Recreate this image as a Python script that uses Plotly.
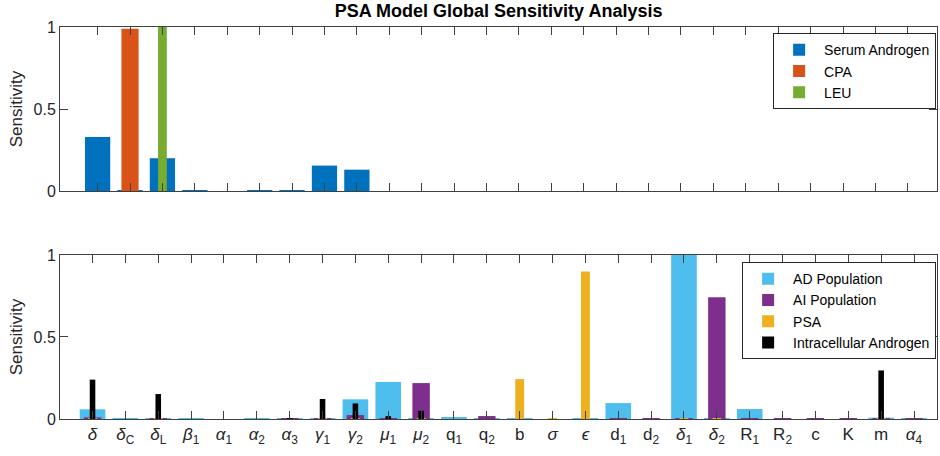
import plotly.graph_objects as go

params = ["δ", "δ_C", "δ_L", "β_1", "α_1", "α_2", "α_3", "γ_1", "γ_2", "μ_1", "μ_2",
          "q_1", "q_2", "b", "σ", "ϵ", "d_1", "d_2", "δ_1", "δ_2", "R_1", "R_2",
          "c", "K", "m", "α_4"]
tick_labels = ["<i>δ</i>", "<i>δ</i><sub>C</sub>", "<i>δ</i><sub>L</sub>", "<i>β</i><sub>1</sub>",
               "<i>α</i><sub>1</sub>", "<i>α</i><sub>2</sub>", "<i>α</i><sub>3</sub>",
               "<i>γ</i><sub>1</sub>", "<i>γ</i><sub>2</sub>", "<i>μ</i><sub>1</sub>",
               "<i>μ</i><sub>2</sub>", "q<sub>1</sub>", "q<sub>2</sub>", "b", "<i>σ</i>",
               "<i>ϵ</i>", "d<sub>1</sub>", "d<sub>2</sub>", "<i>δ</i><sub>1</sub>",
               "<i>δ</i><sub>2</sub>", "R<sub>1</sub>", "R<sub>2</sub>", "c", "K", "m",
               "<i>α</i><sub>4</sub>"]

# top panel
serum_androgen = [0.33, 0.002, 0.20, 0.002, 0.0, 0.003, 0.005, 0.155, 0.13, 0.0, 0.0,
                  0.0, 0.0, 0.0, 0.0, 0.0, 0.0, 0.0, 0.0, 0.0, 0.0, 0.0, 0.0, 0.0, 0.0, 0.0]
cpa = [0.0, 0.99, 0.0, 0.0, 0.0, 0.0, 0.0, 0.0, 0.0, 0.0, 0.0, 0.0, 0.0, 0.0, 0.0, 0.0,
       0.0, 0.0, 0.0, 0.0, 0.0, 0.0, 0.0, 0.0, 0.0, 0.0]
leu = [0.0, 0.0, 1.0, 0.0, 0.0, 0.0, 0.0, 0.0, 0.0, 0.0, 0.0, 0.0, 0.0, 0.0, 0.0, 0.0,
       0.0, 0.0, 0.0, 0.0, 0.0, 0.0, 0.0, 0.0, 0.0, 0.0]

# bottom panel
ad_pop = [0.059, 0.001, 0.005, 0.001, 0.0, 0.001, 0.001, 0.003, 0.12, 0.225, 0.001,
          0.012, 0.001, 0.001, 0.0, 0.001, 0.097, 0.0, 1.0, 0.001, 0.061, 0.0,
          0.0, 0.0, 0.008, 0.001]
ai_pop = [0.01, 0.0, 0.002, 0.0, 0.0, 0.0, 0.001, 0.001, 0.024, 0.001, 0.219,
          0.0, 0.018, 0.0, 0.0, 0.0, 0.001, 0.003, 0.001, 0.743, 0.001, 0.003,
          0.001, 0.001, 0.001, 0.001]
psa = [0.002, 0.0, 0.002, 0.0, 0.0, 0.0, 0.0, 0.002, 0.002, 0.0, 0.002,
       0.0, 0.0, 0.243, 0.002, 0.90, 0.0, 0.0, 0.002, 0.002, 0.0, 0.0,
       0.0, 0.0, 0.004, 0.0]
intracellular = [0.24, 0.0, 0.152, 0.0, 0.0, 0.0, 0.003, 0.122, 0.095, 0.018, 0.05,
                 0.0, 0.0, 0.0, 0.0, 0.0, 0.0, 0.0, 0.0, 0.0, 0.0, 0.0, 0.0, 0.0,
                 0.296, 0.0]

x = list(range(len(params)))

fig = go.Figure()

top_series = [("Serum Androgen", serum_androgen, "#0072BD", 0.78),
              ("CPA", cpa, "#D95319", 0.53),
              ("LEU", leu, "#77AC30", 0.27)]
for name, vals, col, w in top_series:
    fig.add_trace(go.Bar(x=x, y=vals, name=name, width=w, marker_color=col,
                         marker_line_width=0, xaxis="x", yaxis="y", legend="legend"))

bot_series = [("AD Population", ad_pop, "#4DBEEE", 0.78),
              ("AI Population", ai_pop, "#7E2F8E", 0.53),
              ("PSA", psa, "#EDB120", 0.27),
              ("Intracellular Androgen", intracellular, "#000000", 0.17)]
for name, vals, col, w in bot_series:
    fig.add_trace(go.Bar(x=x, y=vals, name=name, width=w, marker_color=col,
                         marker_line_width=0, xaxis="x2", yaxis="y2", legend="legend2"))

axis_col = "#404040"
FAM = "Liberation Sans, Arial, sans-serif"

common_x = dict(showgrid=False, zeroline=False, showline=True, linecolor=axis_col,
                linewidth=1, mirror="ticks", ticks="inside", ticklen=8,
                tickcolor=axis_col, tickvals=x)


def y_axis(domain, anchor):
    return dict(showgrid=False, zeroline=False, showline=True, linecolor=axis_col,
                linewidth=1, mirror="ticks", ticks="inside", ticklen=8,
                tickcolor=axis_col, range=[0, 1], tickvals=[0, 0.5, 1],
                ticktext=["0", "0.5", "1"],
                tickfont=dict(family=FAM, size=16, color="#262626"),
                title=dict(text="Sensitivity", standoff=6,
                           font=dict(family=FAM, size=17, color="#262626")),
                domain=domain, anchor=anchor)


fig.update_layout(
    width=940, height=456,
    margin=dict(l=60, r=3, t=27, b=37),
    paper_bgcolor="white", plot_bgcolor="white",
    barmode="overlay",
    font=dict(family=FAM, color="#262626"),
    title=dict(text="<b>PSA Model Global Sensitivity Analysis</b>",
               x=0.5304, xanchor="center", y=0.99, yanchor="top",
               font=dict(family="Liberation Sans Narrow, Liberation Sans, Arial, sans-serif",
                         size=18, color="#000000")),
    xaxis=dict(common_x, domain=[0, 1], range=[-1.16, 25.9], anchor="y",
               showticklabels=False),
    yaxis=y_axis([0.5816, 1], "x"),
    xaxis2=dict(common_x, domain=[0, 1], range=[-0.99, 25.7], anchor="y2",
                ticktext=tick_labels,
                tickfont=dict(family=FAM, size=17, color="#262626"),
                tickangle=0),
    yaxis2=y_axis([0, 0.4184], "x2"),
    legend=dict(x=0.999, xanchor="right", y=0.984, yanchor="top",
                bordercolor="#262626", borderwidth=1, bgcolor="white",
                font=dict(size=14, color="#000000"), traceorder="normal",
                tracegroupgap=0, itemwidth=40),
    legend2=dict(x=0.999, xanchor="right", y=0.40, yanchor="top",
                 bordercolor="#262626", borderwidth=1, bgcolor="white",
                 font=dict(size=14, color="#000000"), traceorder="normal",
                 tracegroupgap=0, itemwidth=40),
    showlegend=True,
)

fig.write_html("out.html")
